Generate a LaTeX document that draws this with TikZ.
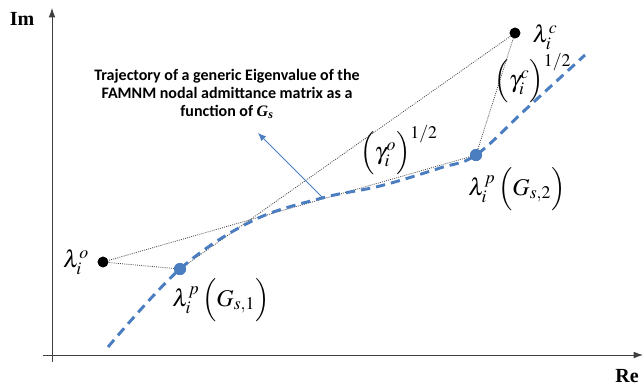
\documentclass[tikz,border=0pt]{standalone}
\usepackage{amsmath}
\usepackage{mathptmx}
\usepackage{fontspec}
\setmainfont{Liberation Serif}
\newfontfamily\calibri{Carlito}[BoldFont={Carlito Bold}]
\newfontfamily\timesbi{Liberation Serif}
\usetikzlibrary{arrows.meta}
\definecolor{traj}{HTML}{4A7EC0}
\definecolor{axisgray}{HTML}{404040}
\definecolor{guidegray}{HTML}{4A4A4A}

\begin{document}
\begin{tikzpicture}[x=0.75pt,y=-0.75pt,
 every node/.style={inner sep=0pt},
 axis/.style={draw=axisgray,line width=.6pt,-{Latex[length=7pt,width=5pt]}},
 guide/.style={draw=guidegray,dash pattern=on .7pt off .9pt,line width=.6pt},
 trajline/.style={draw=traj,line width=2.2pt,dash pattern=on 7pt off 4.5pt},
 pole/.style={circle,fill=black,minimum size=8pt},
 pdot/.style={circle,fill=traj,minimum size=9pt},
 lab/.style={font=\fontsize{18}{22}\selectfont},
 axlab/.style={font=\bfseries\fontsize{15}{17}\selectfont},
 note/.style={font=\calibri\bfseries\fontsize{12}{13.5}\selectfont,align=center},
 notearr/.style={draw=traj,line width=.6pt,-{Latex[length=6pt,width=5pt]}}]
 \useasboundingbox (0,0) rectangle (644,387);
 % axes
 \coordinate (ybot) at (52,362);
 \coordinate (ytop) at (52,8);
 \coordinate (xleft) at (43,355);
 \coordinate (xright) at (643,355);
 \draw[axis] (ybot) -- (ytop);
 \draw[axis] (xleft) -- (xright);
 \node[axlab] (im) at (22,19) {Im};
 \node[axlab] (re) at (627,376) {Re};
 % eigenvalue points
 \node[pole] (lo) at (103,262) {};
 \node[pole] (lc) at (515,33) {};
 \node[pdot] (lp1) at (180,269) {};
 \node[pdot] (lp2) at (476,155) {};
 % dotted construction lines
 \draw[guide] (lo.center) -- (lp1.center);
 \draw[guide] (lo.center) -- (lp2.center);
 \draw[guide] (lp1.center) -- (lc.center);
 \draw[guide] (lp2.center) -- (lc.center);
 % trajectory
 \draw[trajline] plot[smooth,tension=.6] coordinates {(108,347) (180,269) (252,221) (322,198)
  (380,186) (440,168) (476,155) (525,110) (585,55)};
 \node[pole] at (lo) {};
 \node[pole] at (lc) {};
 \node[pdot] at (lp1) {};
 \node[pdot] at (lp2) {};
 % labels
 \node[lab] (llo) at (76,262) {$\lambda_i^{o}$};
 \node[lab] (llc) at (545,37) {$\lambda_i^{c}$};
 \node[lab] (llp1) at (221,300) {$\lambda_i^{p}\,\Big(G_{s,1}\Big)$};
 \node[lab] (llp2) at (517,189) {$\lambda_i^{p}\,\Big(G_{s,2}\Big)$};
 \node[lab] (go) at (399,150) {$\Big(\gamma_i^{o}\Big)^{1/2}$};
 \node[lab] (gc) at (533,78) {$\Big(\gamma_i^{c}\Big)^{1/2}$};
 % annotation
 \node[note] (txt) at (227,94) {Trajectory of a generic Eigenvalue of the\\FAMNM nodal admittance matrix as a\\function of {\timesbi\bfseries\itshape G\textsubscript{s}}};
 \coordinate (tail) at (322,197);
 \coordinate (tip) at (258,133);
 \draw[notearr] (tail) -- (tip);
\end{tikzpicture}
\end{document}
